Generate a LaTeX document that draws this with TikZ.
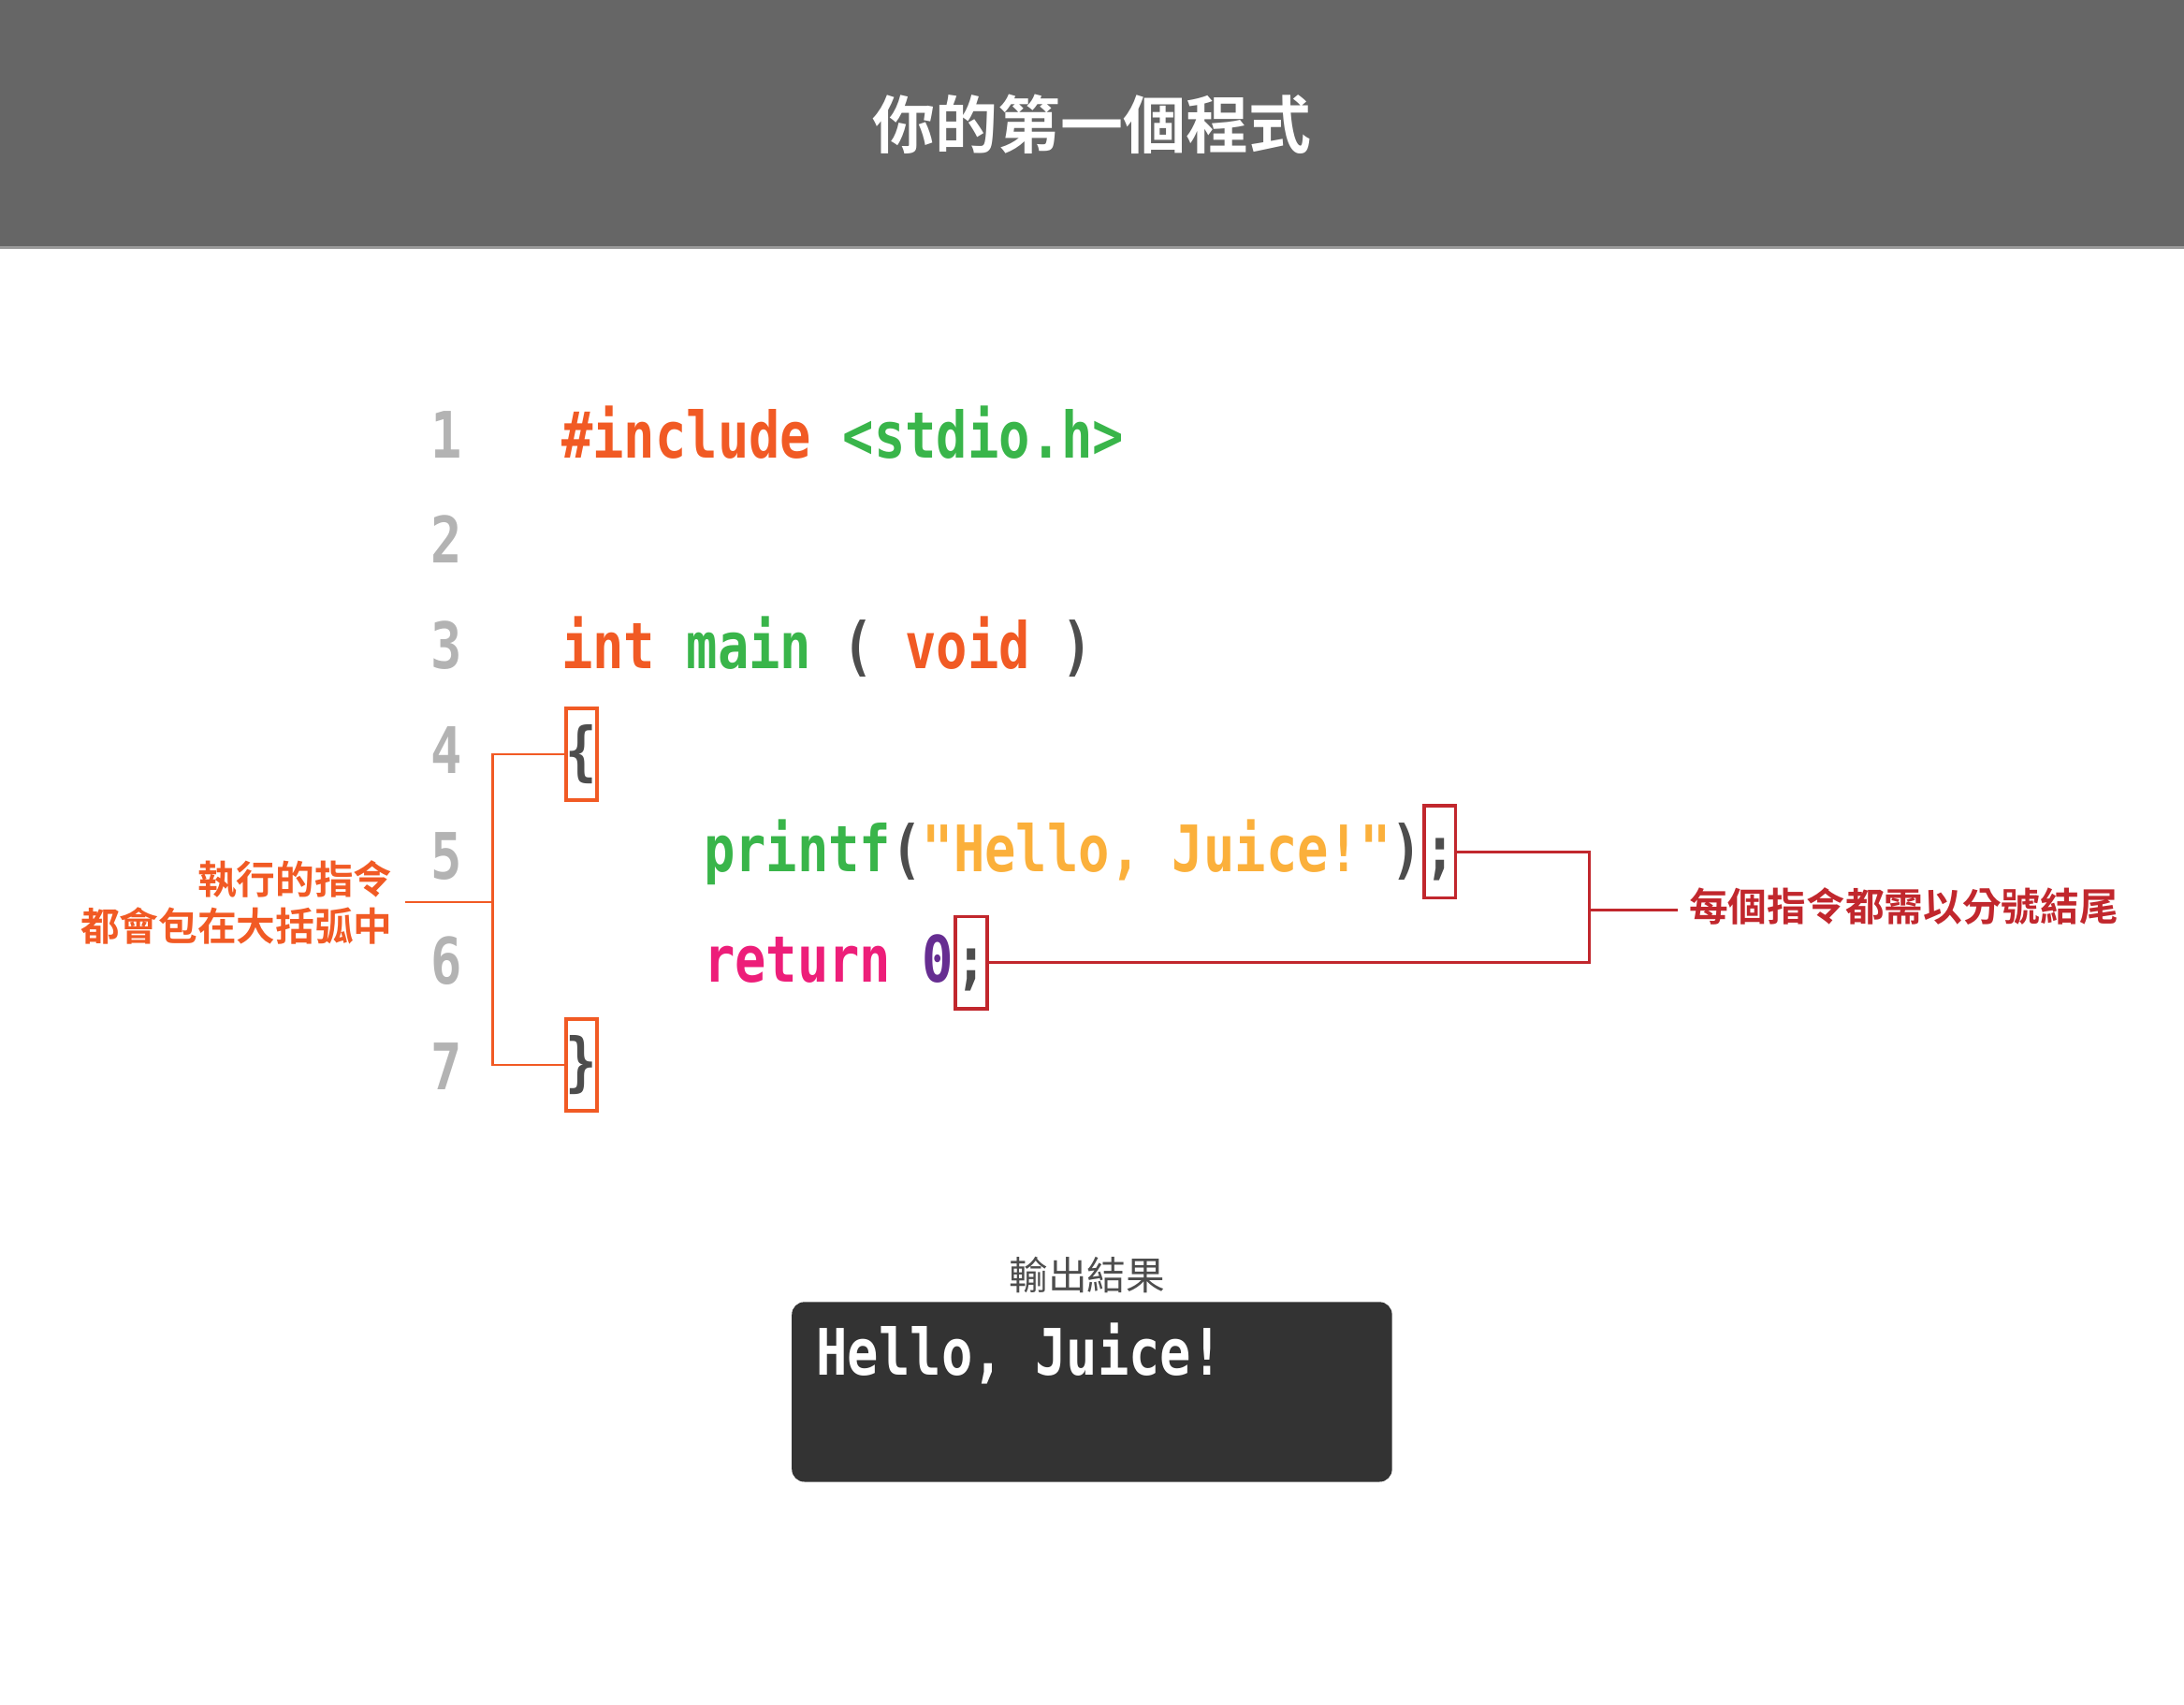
\documentclass[tikz,border=0pt]{standalone}
\usepackage{fontspec}
\newfontfamily\codefont[FakeStretch=0.81]{DejaVu Sans Mono}
\newfontfamily\cjkfont[BoldFont={Noto Sans CJK TC Bold}]{Noto Sans CJK TC}
\definecolor{headgray}{HTML}{666666}
\definecolor{headline}{HTML}{999999}
\definecolor{numgray}{HTML}{B3B3B3}
\definecolor{cOrange}{HTML}{F15A24}
\definecolor{cGreen}{HTML}{39B54A}
\definecolor{cYellow}{HTML}{FBB03B}
\definecolor{cPink}{HTML}{ED1E79}
\definecolor{cPurple}{HTML}{662D91}
\definecolor{cDark}{HTML}{4D4D4D}
\definecolor{cRed}{HTML}{C1272D}
\definecolor{outgray}{HTML}{333333}
\begin{document}
\begin{tikzpicture}[x=1pt,y=1pt]
\tikzstyle{every node}+=[inner sep=0pt]
\tikzstyle{code}=[font=\codefont\bfseries\fontsize{46}{46}\selectfont, anchor=base west]
\tikzstyle{lnum}=[font=\codefont\bfseries\fontsize{46}{46}\selectfont, text=numgray, anchor=base]
\tikzstyle{bracebox}=[code, draw=cOrange, line width=2.5pt, text height=47pt, text depth=19pt, text=cDark]
\tikzstyle{semibox}=[code, draw=cRed, line width=2.5pt, text height=47pt, text depth=19pt, text=cDark]
\tikzstyle{bracketline}=[cOrange, line width=1.8pt]
\tikzstyle{semiline}=[cRed, line width=1.8pt]
\tikzstyle{note}=[font=\cjkfont\bfseries\fontsize{28}{33.5}\selectfont]
\useasboundingbox (0,0) rectangle (1568,-1223.4);
% header
\fill [headgray] (0,0) rectangle (1568,-177);
\draw [headline, line width=2pt] (0,-178) -- (1568,-178);
\node [font=\cjkfont\bfseries\fontsize{45}{45}\selectfont, text=white] (title) at (784,-89.4) {你的第一個程式};
% line numbers
\node [lnum] (n1) at (320.5,-328.6) {1};
\node [lnum] (n2) at (320.5,-404.2) {2};
\node [lnum] (n3) at (320.5,-479.8) {3};
\node [lnum] (n4) at (320.5,-555.4) {4};
\node [lnum] (n5) at (320.5,-631) {5};
\node [lnum] (n6) at (320.5,-706.6) {6};
\node [lnum] (n7) at (320.5,-782.2) {7};
% code
\node [code] (ln1) at (403,-328.6) {\color{cOrange}\#include \color{cGreen}<stdio.h>};
\node [code] (ln3) at (403,-479.8) {\color{cOrange}int \color{cGreen}main \color{cDark}( \color{cOrange}void \color{cDark})};
\node [bracebox] (lbrace) at (405,-555.4) {\{};
\node [code] (ln5) at (505,-625.5) {\color{cGreen}printf\color{cDark}(\color{cYellow}"Hello, Juice!"\color{cDark})};
\node [semibox] (semiA) at (ln5.base east) {;};
\node [code] (ln6) at (505,-705) {\color{cPink}return \color{cPurple}0};
\node [semibox] (semiB) at (ln6.base east) {;};
\node [bracebox] (rbrace) at (405,-778.5) {\}};
% notes
\node [note, text=cOrange, align=right, anchor=east, inner xsep=9pt] (blocknote) at (291,-647.7) {執行的指令\\都會包在大括弧中};
\coordinate (bjoin) at (353.7,-647.7);
\draw [bracketline] (lbrace.west) -| (bjoin) |- (rbrace.west);
\draw [bracketline] (bjoin) -- (blocknote.east);
\node [note, text=cRed, anchor=west, inner xsep=8pt] (seminote) at (1204.6,-650.5) {每個指令都需以分號結尾};
\coordinate (sjoin) at (1141.2,-653.4);
\draw [semiline] (semiA.east) -| (sjoin) |- (semiB.east);
\draw [semiline] (sjoin) -- (sjoin -| seminote.west);
% output
\node [font=\cjkfont\fontsize{28}{28}\selectfont, text=cDark] (outlabel) at (780.5,-915.3) {輸出結果};
\node [fill=outgray, rounded corners=9pt, anchor=north west, minimum width=430.9pt, minimum height=129.1pt] (outbox) at (568.3,-934.5) {};
\node [code, text=white] (hello) at (586,-987) {Hello, Juice!};
\end{tikzpicture}
\end{document}
